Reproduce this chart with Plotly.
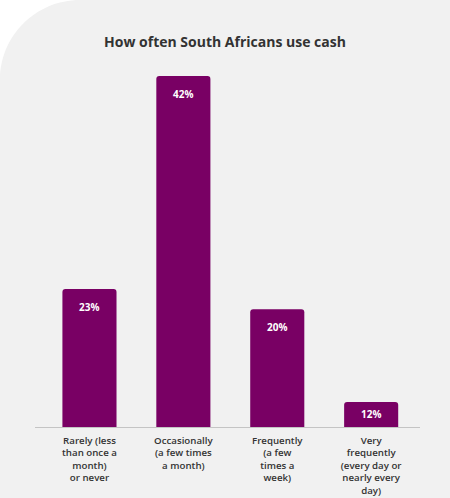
import plotly.graph_objects as go

# данные
categories = ['Rarely (less<br>than once a<br>month)<br>or never',
              'Occasionally<br>(a few times<br>a month)',
              'Frequently<br>(a few<br>times a<br>week)',
              'Very<br>frequently<br>(every day or<br>nearly every<br>day)']
share_labels = ['23%', '42%', '20%', '12%']
# высота столбиков как нарисовано (на картинке они не пропорциональны подписям)
bar_heights = [16.5, 42, 14.1, 3.0]

PURPLE = '#790064'
BG = '#f1f1f1'
TEXT = '#333333'

x_pos = list(range(len(categories)))

fig = go.Figure()
fig.add_trace(go.Bar(x=x_pos, y=bar_heights, marker=dict(color=PURPLE, line=dict(width=0)),
                     hoverinfo='skip'))

# подписи процентов внутри столбиков
for x, h, t in zip(x_pos, bar_heights, share_labels):
    fig.add_annotation(x=x, y=h, text=t, showarrow=False, yanchor='middle',
                       yshift=-18 if h > 5 else -12,
                       font=dict(family='Open Sans', size=10, color='white', weight='bold'))

# белый уголок: карточка со скруглённым левым верхним углом
rx, ry, k = 80 / 450, 80 / 498, 0.5523
path = (f'M 0,1 L 0,{1 - ry} C 0,{1 - ry + k * ry} {rx - k * rx},1 {rx},1 Z')
fig.add_shape(type='path', path=path, xref='paper', yref='paper',
              fillcolor='white', line=dict(width=0), layer='below')

fig.update_layout(
    width=450, height=498,
    margin=dict(l=0, r=0, t=0, b=0),
    paper_bgcolor=BG, plot_bgcolor='rgba(0,0,0,0)',
    showlegend=False, bargap=0.424, barcornerradius=3,
    title=dict(text='How often South Africans use cash', x=0.5, xanchor='center',
               y=1 - 42 / 498, yanchor='middle',
               font=dict(family='Open Sans', size=14, color=TEXT, weight='bold')),
    xaxis=dict(domain=[35 / 450, 420 / 450], range=[-0.58, 3.52],
               tickmode='array', tickvals=x_pos, ticktext=categories,
               showline=True, linecolor='#c4c4c4', linewidth=1,
               showgrid=False, zeroline=False, ticks='', automargin=False,
               ticklabelstandoff=4,
               tickfont=dict(family='Open Sans', size=9.7, color=TEXT, weight=600)),
    yaxis=dict(domain=[71 / 498, 1], range=[0, 51.09], visible=False),
)

# страница ровно по размеру фигуры: без отступов и лишней высоты
page_js = """
document.documentElement.style.overflow = 'hidden';
document.body.style.margin = '0';
document.body.style.overflow = 'hidden';
"""
fig.write_html('out.html', config={'displayModeBar': False}, post_script=page_js)
